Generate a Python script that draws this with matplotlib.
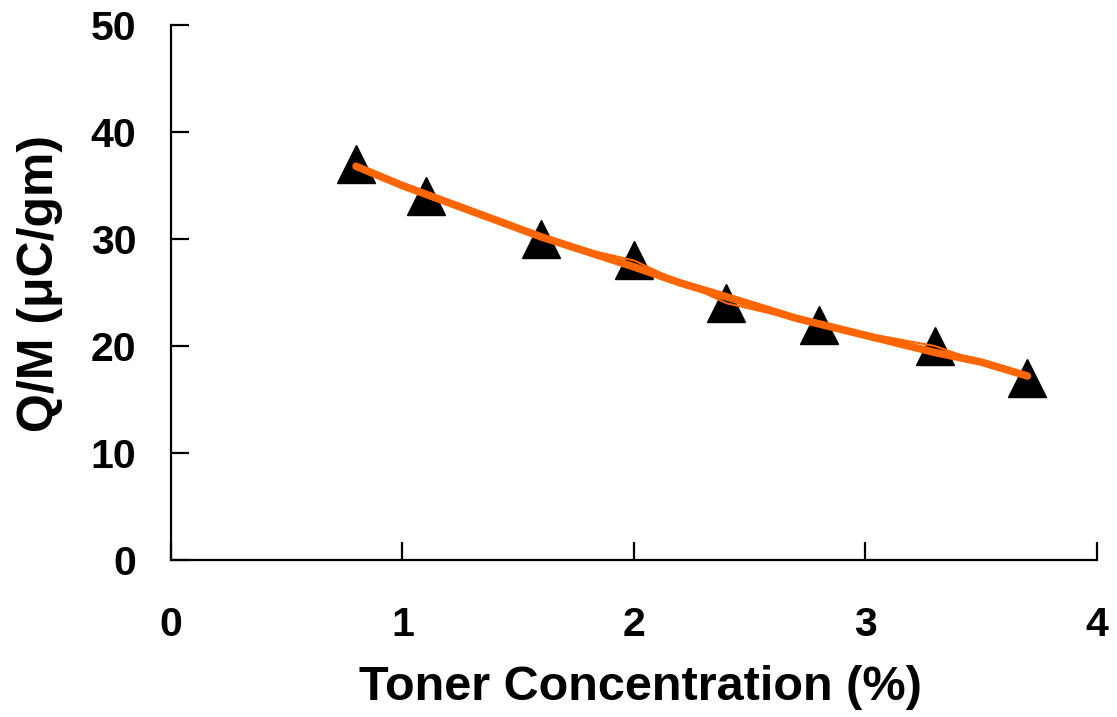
import matplotlib
matplotlib.use("Agg")
import matplotlib.pyplot as plt

plt.rcParams['font.family'] = ['Liberation Sans', 'DejaVu Sans']

toner = [0.8, 1.1, 1.6, 2.0, 2.4, 2.8, 3.3, 3.7]
qm = [37, 34, 30, 28, 24, 22, 20, 17]
trend_x = [0.8, 1.0, 1.2, 1.4, 1.6, 1.8, 2.0, 2.2, 2.4, 2.7, 3.0, 3.3, 3.5, 3.7]
trend_y = [36.8, 35.0, 33.4, 31.8, 30.2, 28.8, 27.4, 25.9, 24.6, 22.6, 21.0, 19.4, 18.5, 17.2]
xticks = [0, 1, 2, 3, 4]
yticks = [0, 10, 20, 30, 40, 50]

fig = plt.figure(figsize=(11.17, 7.17), dpi=100)
ax = fig.add_axes([0.153, 0.219, 0.829, 0.746])

orange = '#FF6600'
ax.plot(toner, qm, linestyle='none', marker='^', color='black', ms=28, zorder=2)
ax.plot(toner, qm, color=orange, lw=1.5, zorder=3)
ax.plot(trend_x, trend_y, color=orange, lw=5.5, solid_capstyle='round',
        solid_joinstyle='round', zorder=4)

ax.set_xlim(0, 4)
ax.set_ylim(0, 50)
ax.set_xticks(xticks)
ax.set_yticks(yticks)
ax.spines['top'].set_visible(False)
ax.spines['right'].set_visible(False)
for s in ['left', 'bottom']:
    ax.spines[s].set_linewidth(1.6)
ax.tick_params(direction='in', length=13, width=1.6, labelsize=29.5)
ax.tick_params(axis='x', pad=33)
ax.tick_params(axis='y', pad=25)
for lab in ax.get_xticklabels() + ax.get_yticklabels():
    lab.set_fontweight('bold')

ax.set_xlabel('Toner Concentration (%)', fontsize=35, fontweight='bold')
ax.set_ylabel('Q/M (\u03bcC/gm)', fontsize=36, fontweight='bold')
ax.xaxis.label.set_verticalalignment('baseline')
ax.xaxis.set_label_coords(640 / 1117, 1 - 700 / 717, transform=fig.transFigure)
ax.yaxis.set_label_coords(40 / 1117, 1 - 283 / 717, transform=fig.transFigure)
ax.yaxis.label.set_verticalalignment('center')

fig.savefig('out.png', dpi=100)
